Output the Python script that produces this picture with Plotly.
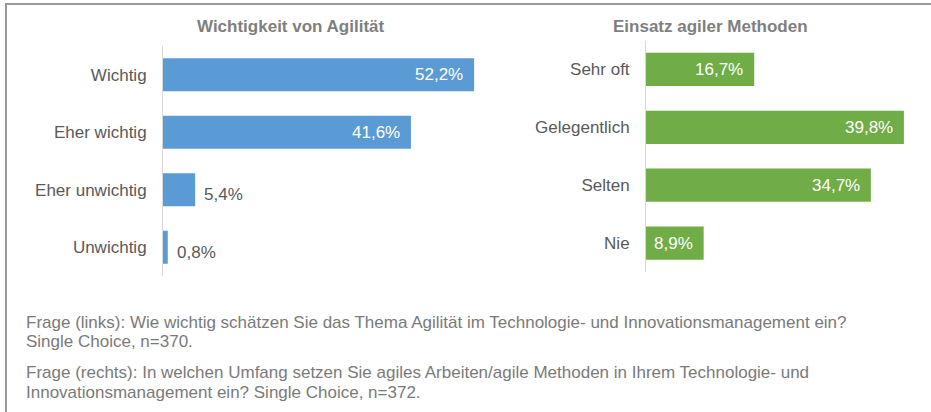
import plotly.graph_objects as go

# ---------------- data ----------------
left_title = "Wichtigkeit von Agilität"
left_categories = ["Wichtig", "Eher wichtig", "Eher unwichtig", "Unwichtig"]
left_values = [52.2, 41.6, 5.4, 0.8]

right_title = "Einsatz agiler Methoden"
right_categories = ["Sehr oft", "Gelegentlich", "Selten", "Nie"]
right_values = [16.7, 39.8, 34.7, 8.9]

footnote_lines = [
    "Frage (links): Wie wichtig schätzen Sie das Thema Agilität im Technologie- und Innovationsmanagement ein?",
    "Single Choice, n=370.",
    "Frage (rechts): In welchen Umfang setzen Sie agiles Arbeiten/agile Methoden in Ihrem Technologie- und",
    "Innovationsmanagement ein? Single Choice, n=372.",
]

# ---------------- style ----------------
W, H = 931, 412
FONT = "Liberation Sans, Arial, sans-serif"
BLUE = "#5B9BD5"
GREEN = "#70AD47"
TICK_COLOR = "#595959"
TITLE_COLOR = "#7F7F7F"
NOTE_COLOR = "#7A7A7A"
AXIS_COLOR = "#D9D9D9"
FS = 17
INSIDE_MIN = 7.0  # bars shorter than this get the label outside


def px_x(p):
    return p / W


def px_y(p):
    return 1 - p / H


fig = go.Figure()

panels = [
    dict(cats=left_categories, vals=left_values, color=BLUE, xa="x", ya="y",
         xdom=(163, 480), ydom=(46, 276), scale=5.96, title=left_title, tx=291),
    dict(cats=right_categories, vals=right_values, color=GREEN, xa="x2", ya="y2",
         xdom=(646, 925), ydom=(40.5, 272), scale=6.48, title=right_title, tx=710),
]

annotations = []
layout_axes = {}
for i, p in enumerate(panels):
    fig.add_trace(go.Bar(
        x=p["vals"], y=p["cats"], orientation="h",
        marker=dict(color=p["color"], line=dict(width=0)),
        xaxis=p["xa"], yaxis=p["ya"], hoverinfo="skip", showlegend=False,
    ))
    suffix = "" if i == 0 else "2"
    xmax = (p["xdom"][1] - p["xdom"][0]) / p["scale"]
    layout_axes["xaxis" + suffix] = dict(
        domain=[px_x(p["xdom"][0]), px_x(p["xdom"][1])],
        range=[0, xmax], visible=False, fixedrange=True,
        anchor="y" + suffix,
    )
    layout_axes["yaxis" + suffix] = dict(
        domain=[px_y(p["ydom"][1]), px_y(p["ydom"][0])],
        categoryorder="array", categoryarray=p["cats"],
        autorange="reversed", showline=True, linecolor=AXIS_COLOR, linewidth=1,
        ticks="", showgrid=False, zeroline=False,
        tickfont=dict(family=FONT, size=FS, color=TICK_COLOR),
        ticklabelstandoff=12, anchor="x" + suffix,
    )
    # panel title
    annotations.append(dict(
        text="<b>" + p["title"] + "</b>", xref="paper", yref="paper",
        x=px_x(p["tx"]), y=px_y(27), xanchor="center", yanchor="middle",
        showarrow=False, font=dict(family=FONT, size=FS, color=TITLE_COLOR),
    ))
    # data labels
    for c, v in zip(p["cats"], p["vals"]):
        label = f"{v:.1f}".replace(".", ",") + "%"
        inside = v >= INSIDE_MIN
        annotations.append(dict(
            text=label, x=v, y=c, xref=p["xa"], yref=p["ya"],
            xanchor="right" if inside else "left", yanchor="middle",
            xshift=-9 if inside else 7, yshift=0 if inside else -5,
            showarrow=False,
            font=dict(family=FONT, size=FS, color="white" if inside else TICK_COLOR),
        ))

note_y = [322, 341, 372, 392]
for line, yy in zip(footnote_lines, note_y):
    annotations.append(dict(
        text=line, xref="paper", yref="paper", x=px_x(24), y=px_y(yy),
        xanchor="left", yanchor="middle", showarrow=False,
        font=dict(family=FONT, size=FS, color=NOTE_COLOR),
    ))

fig.update_layout(
    width=W, height=H, margin=dict(l=0, r=0, t=0, b=0),
    paper_bgcolor="white", plot_bgcolor="white",
    bargap=0.426, annotations=annotations,
    shapes=[dict(type="rect", xref="paper", yref="paper",
                 x0=px_x(6), x1=1.1, y0=-0.1, y1=px_y(4),
                 line=dict(color="#9A9A9A", width=2), layer="above")],
    **layout_axes,
)

fig.write_html(
    "out.html",
    config=dict(displayModeBar=False),
    post_script="document.body.style.margin='0';document.body.style.overflow='hidden';",
)
